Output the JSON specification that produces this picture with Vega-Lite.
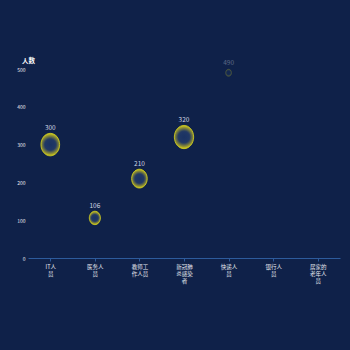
{
  "$schema": "https://vega.github.io/schema/vega-lite/v6.json",
  "autosize": "none",
  "width": 312,
  "height": 189,
  "padding": {"left": 28, "top": 69, "right": 10, "bottom": 92},
  "background": "#0f2149",
  "config": {
    "view": {"stroke": null},
    "font": "Noto Sans CJK SC"
  },
  "data": {
    "values": [
      {"job": "IT人员", "value": 300},
      {"job": "医务人员", "value": 106},
      {"job": "教师工作人员", "value": 210},
      {"job": "新冠肺炎感染者", "value": 320},
      {"job": "快递人员", "value": 490}
    ]
  },
  "encoding": {
    "x": {
      "field": "job",
      "type": "nominal",
      "sort": null,
      "scale": {
        "domain": ["IT人员", "医务人员", "教师工作人员", "新冠肺炎感染者", "快递人员", "银行人员", "居家的老年人员"],
        "paddingInner": 0,
        "paddingOuter": 0
      },
      "axis": {
        "title": null,
        "labelAngle": 0,
        "labelColor": "#e6e9f0",
        "labelFontSize": 5.5,
        "labelLineHeight": 7,
        "labelPadding": 3,
        "labelExpr": "[substring(datum.label,0,3), substring(datum.label,3,6), substring(datum.label,6,9)]",
        "domainColor": "#2d5b9c",
        "domainWidth": 1,
        "tickColor": "#2d5b9c",
        "tickSize": 3,
        "grid": false
      }
    },
    "y": {
      "field": "value",
      "type": "quantitative",
      "scale": {"domain": [0, 500], "nice": false},
      "axis": {
        "title": "人数",
        "titleAngle": 0,
        "titleAlign": "center",
        "titleBaseline": "middle",
        "titleX": 0,
        "titleY": -9,
        "titleColor": "#ffffff",
        "titleFontSize": 6.5,
        "titleFontWeight": "bold",
        "values": [0, 100, 200, 300, 400, 500],
        "labelColor": "#e6e9f0",
        "labelFontSize": 5,
        "labelPadding": 3,
        "domain": false,
        "ticks": false,
        "grid": false
      }
    }
  },
  "layer": [
    {
      "transform": [{"filter": "datum.value < 400"}],
      "layer": [
        {
          "mark": {
            "type": "point",
            "filled": true,
            "shape": "M0,-1A0.83,1 0 1,1 0,1A0.83,1 0 1,1 0,-1Z",
            "opacity": 1,
            "stroke": "#d6d31f",
            "strokeWidth": 0.8,
            "fill": {
              "gradient": "radial",
              "x1": 0.5, "y1": 0.5, "r1": 0,
              "x2": 0.5, "y2": 0.5, "r2": 0.5,
              "stops": [
                {"offset": 0, "color": "#1a3262"},
                {"offset": 0.5, "color": "#213866"},
                {"offset": 0.8, "color": "#8c8c34"},
                {"offset": 1, "color": "#d6d31c"}
              ]
            }
          },
          "encoding": {
            "size": {
              "field": "value",
              "type": "quantitative",
              "scale": {"domain": [0, 320], "range": [0, 541], "zero": true},
              "legend": null
            }
          }
        },
        {
          "mark": {"type": "text", "fontSize": 6.5, "color": "#d0d5e2", "baseline": "middle", "theta": 0},
          "encoding": {
            "text": {"field": "value", "type": "quantitative"},
            "radius": {
              "field": "value",
              "type": "quantitative",
              "scale": {"type": "sqrt", "domain": [0, 320], "range": [5, 16.6], "zero": false}
            }
          }
        }
      ]
    },
    {
      "transform": [{"filter": "datum.value >= 400"}],
      "layer": [
        {
          "mark": {
            "type": "point",
            "filled": true,
            "shape": "M0,-1A0.83,1 0 1,1 0,1A0.83,1 0 1,1 0,-1Z",
            "size": 50,
            "opacity": 0.35,
            "stroke": "#d6d31f",
            "strokeWidth": 0.6,
            "fill": {
              "gradient": "radial",
              "x1": 0.5, "y1": 0.5, "r1": 0,
              "x2": 0.5, "y2": 0.5, "r2": 0.5,
              "stops": [
                {"offset": 0, "color": "#1a3262"},
                {"offset": 0.6, "color": "#213866"},
                {"offset": 1, "color": "#d6d31c"}
              ]
            }
          }
        },
        {
          "mark": {"type": "text", "fontSize": 6.5, "color": "#c9cfdc", "opacity": 0.4, "baseline": "middle", "dy": -10},
          "encoding": {
            "text": {"field": "value", "type": "quantitative"}
          }
        }
      ]
    }
  ]
}
